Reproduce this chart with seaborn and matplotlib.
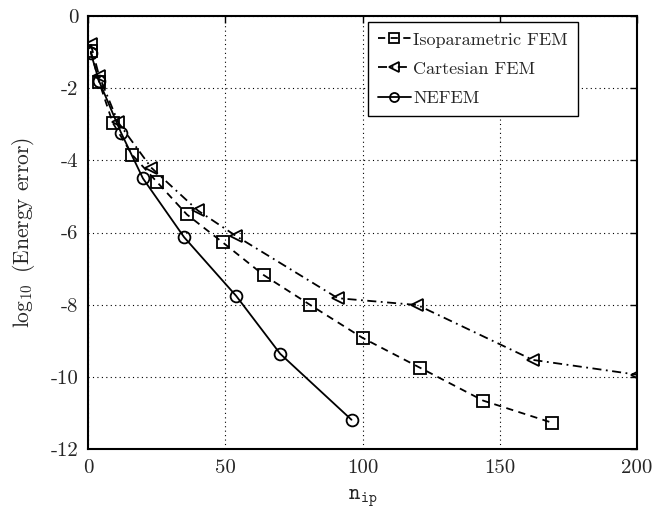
import numpy as np
import pandas as pd
import matplotlib
matplotlib.use('Agg')
import matplotlib.pyplot as plt
import seaborn as sns

sns.set_theme(style='white')
plt.rcParams['font.family'] = ['cmr10', 'DejaVu Serif']
plt.rcParams['mathtext.fontset'] = 'cm'
plt.rcParams['axes.unicode_minus'] = False
plt.rcParams['axes.formatter.use_mathtext'] = False

# data
iso_x = [1, 4, 9, 16, 25, 36, 49, 64, 81, 100, 121, 144, 169]
iso_y = [-0.97, -1.82, -2.96, -3.84, -4.59, -5.50, -6.27, -7.18, -8.01, -8.92, -9.75, -10.66, -11.27]

cart_x = [1, 4, 11, 23, 40, 54, 91, 120, 162, 200]
cart_y = [-0.78, -1.65, -2.95, -4.20, -5.39, -6.10, -7.82, -8.01, -9.53, -9.94]

nefem_x = [1, 4, 12, 20, 35, 54, 70, 96]
nefem_y = [-1.02, -1.80, -3.23, -4.50, -6.13, -7.76, -9.36, -11.19]

series = [
    ('Isoparametric FEM', iso_x, iso_y, (0, (4, 3)), 's'),
    ('Cartesian FEM', cart_x, cart_y, (0, (5, 2.5, 1, 2.5)), '<'),
    ('NEFEM', nefem_x, nefem_y, '-', 'o'),
]

fig = plt.figure(figsize=(6.54, 5.11), dpi=100)
ax = fig.add_axes([0.1346, 0.1213, 0.974 - 0.1346, 0.9687 - 0.1213])

for name, x, y, ls, mk in series:
    df = pd.DataFrame({'n': x, 'err': y})
    sns.lineplot(data=df, x='n', y='err', ax=ax, color='black', linestyle=ls,
                 marker=mk, markersize=8.5, markerfacecolor='none',
                 markeredgecolor='black', markeredgewidth=1.3,
                 linewidth=1.3, label=name, sort=False)

ax.set_xlim(0, 200)
ax.set_ylim(-12, 0)
ax.set_xticks([0, 50, 100, 150, 200])
ax.set_yticks([0, -2, -4, -6, -8, -10, -12])
ax.grid(True, color='black', linestyle=(0, (1, 3)), linewidth=0.8)
for s in ax.spines.values():
    s.set_color('black')
    s.set_linewidth(1.5)
ax.tick_params(direction='in', top=True, right=True, length=5, width=1,
               color='black', labelsize=15, pad=7)
ax.set_xlabel(r'$\mathtt{n}_{\mathtt{ip}}$', fontsize=15.5, labelpad=8)
ax.set_ylabel(r'$\log_{10}$ (Energy error)', fontsize=15.5, labelpad=10)

leg = ax.legend(loc='upper right', bbox_to_anchor=(0.8925, 0.986), fontsize=13,
                frameon=True, fancybox=False, framealpha=1, edgecolor='black',
                handlelength=1.8, borderpad=0.55, labelspacing=0.75,
                handletextpad=0.15, borderaxespad=0)
leg.get_frame().set_linewidth(1.0)
for h in leg.legend_handles:
    h.set_markersize(6.5)

fig.savefig('out.png', dpi=100)
